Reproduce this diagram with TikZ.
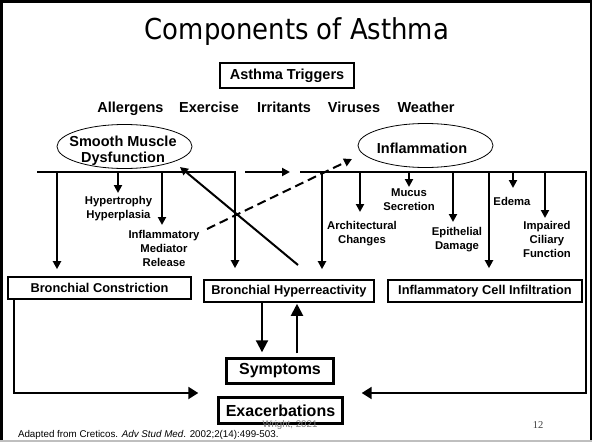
\documentclass[tikz,border=0pt]{standalone}
\usepackage{fontspec}
\setmainfont{Liberation Sans}
\newfontfamily\seriffont{Liberation Serif}
\newfontfamily\titlefont{DejaVu Sans Condensed}
\usetikzlibrary{arrows.meta,shapes.geometric}
\begin{document}
\begin{tikzpicture}[x=1pt,y=-1pt,
  every node/.style={inner sep=0pt, outer sep=0pt},
  lbox/.style={draw, line width=2.4pt, minimum height=21.6pt, font=\fontsize{12.8}{14}\selectfont\bfseries},
  bigbox/.style={draw, line width=2.6pt, font=\fontsize{16}{18}\selectfont\bfseries},
  trig/.style={font=\fontsize{14.5}{16}\selectfont\bfseries, anchor=base},
  oval/.style={draw, ellipse, line width=0.8pt, minimum width=135pt, minimum height=44pt},
  ovaltext/.style={font=\fontsize{14.5}{16}\selectfont\bfseries, align=center},
  small/.style={font=\fontsize{11.3}{14}\selectfont\bfseries, align=center, anchor=north},
  bar/.style={line width=2pt},
  arr/.style={line width=2pt, -{Triangle[length=8pt,width=8pt]}},
  bigarr/.style={line width=2pt, -{Triangle[length=12pt,width=12pt]}},
  botarr/.style={line width=2pt, -{Triangle[length=10pt,width=12pt]}},
  dasharr/.style={line width=2pt, dash pattern=on 9pt off 5pt, -{Triangle[length=8pt,width=8pt]}},
]
\useasboundingbox (0,0) rectangle (592,442);
\fill[white] (0,0) rectangle (592,442);
% slide frame
\draw[line width=2.5pt] (1.25,441) -- (1.25,1.25) -- (590.75,1.25) -- (590.75,441);
\draw[line width=2pt, gray!50] (0,440.5) -- (592,440.5);

% title
\node[font=\fontsize{28.8}{32}\selectfont\titlefont, anchor=base] (title) at (297,39.5) {Components of Asthma};

% triggers
\node[draw, line width=2.2pt, minimum width=134pt, minimum height=25pt,
      font=\fontsize{14.5}{16}\selectfont\bfseries] (trg) at (287,75.75) {Asthma Triggers};
\node[trig] (t1) at (130.5,112) {Allergens};
\node[trig] (t2) at (209,112) {Exercise};
\node[trig] (t3) at (284,112) {Irritants};
\node[trig] (t4) at (354,112) {Viruses};
\node[trig] (t5) at (426,112) {Weather};

% ellipses
\node[oval] (smd) at (124.5,146.5) {};
\node[ovaltext] (smdt) at (123,151) {Smooth Muscle\\Dysfunction};
\node[oval] (infl) at (425.5,145.5) {};
\node[font=\fontsize{14.5}{16}\selectfont\bfseries, anchor=base] (inflt) at (422,153.3) {Inflammation};

% boxes
\node[lbox, minimum width=182.6pt] (bc) at (99.5,288) {Bronchial Constriction};
\node[lbox, minimum width=169.6pt] (bh) at (289,291) {Bronchial Hyperreactivity};
\node[lbox, minimum width=193.6pt] (icf) at (485,291) {Inflammatory Cell Infiltration};
\node[bigbox, minimum width=107.4pt, minimum height=25.4pt] (sy) at (280,371) {Symptoms};
\node[bigbox, minimum width=124.4pt, minimum height=26.4pt] (ex) at (280.5,410.5) {Exacerbations};

% small labels
\node[small] (hyp) at (118.5,196.8) {Hypertrophy\\Hyperplasia};
\node[small] (imr) at (164,230.8) {Inflammatory\\Mediator\\Release};
\node[small] (arch) at (362,221.1) {Architectural\\Changes};
\node[small] (muc) at (409,188.5) {Mucus\\Secretion};
\node[small] (epi) at (457,227.8) {Epithelial\\Damage};
\node[small] (ede) at (512,197.8) {Edema};
\node[small] (imp) at (547,221) {Impaired\\Ciliary\\Function};

% bar coordinates
\coordinate (lb0) at (37,172);
\coordinate (lb1) at (235,172);
\coordinate (la) at (57,172);
\coordinate (lh) at (118,172);
\coordinate (lm) at (162,172);
\coordinate (m0) at (245,172);
\coordinate (m1) at (290,172);
\coordinate (rb0) at (300,172);
\coordinate (rb1) at (586,172);
\coordinate (rb2) at (586,393);
\coordinate (rh) at (322,172);
\coordinate (ra) at (360,172);
\coordinate (rm) at (409,172);
\coordinate (re) at (453,172);
\coordinate (ri) at (489,172);
\coordinate (red) at (513,172);
\coordinate (rc) at (545,172);
\coordinate (bl) at (14,393);
\coordinate (ds0) at (298,265);
\coordinate (ds1) at (180,167);
\coordinate (dd0) at (207,229);
\coordinate (dd1) at (352,159);
\coordinate (sd) at (262,300);
\coordinate (su) at (297,300);

% left bar
\draw[arr, shorten >=12pt] (lb0) -- (lb1) -- (lb1 |- bh.north);
\draw[arr, shorten >=8pt] (la) -- (la |- bc.north);
\draw[arr] (lh) -- (118,193);
\draw[arr] (lm) -- (162,225);

% middle arrow
\draw[arr] (m0) -- (m1);

% right bar
\draw[botarr, shorten >=19pt] (rb0) -- (rb1) -- (rb2) -- (rb2 -| ex.east);
\draw[arr, shorten >=11pt] (rh) -- (rh |- bh.north);
\draw[arr] (ra) -- (360,212);
\draw[arr] (rm) -- (409,187);
\draw[arr] (re) -- (453,222);
\draw[arr, shorten >=12pt] (ri) -- (ri |- icf.north);
\draw[arr] (red) -- (513,188);
\draw[arr] (rc) -- (545,218);

% bottom left
\draw[botarr, shorten >=20pt] (bc.south -| bl) -- (bl) -- (bl -| ex.west);

% diagonals
\draw[arr] (ds0) -- (ds1);
\draw[dasharr] (dd0) -- (dd1);

% hyperreactivity <-> symptoms
\draw[bigarr, shorten >=6pt] (sd |- bh.south) -- (sd |- sy.north);
\draw[bigarr, shorten <=5pt, shorten >=2pt] (su |- sy.north) -- (su |- bh.south);

% footer
\node[font=\fontsize{9.8}{11}\selectfont, anchor=base west] (src) at (18,437) {Adapted from Creticos. \textit{Adv Stud Med}. 2002;2(14):499-503.};
\node[font=\fontsize{9.7}{11}\selectfont, text=gray, anchor=base] (wr) at (290,427) {Wright, 2021};
\node[font=\fontsize{10.5}{12}\selectfont\seriffont, text=black!75, anchor=base] (pg) at (538,428) {12};
\end{tikzpicture}
\end{document}
